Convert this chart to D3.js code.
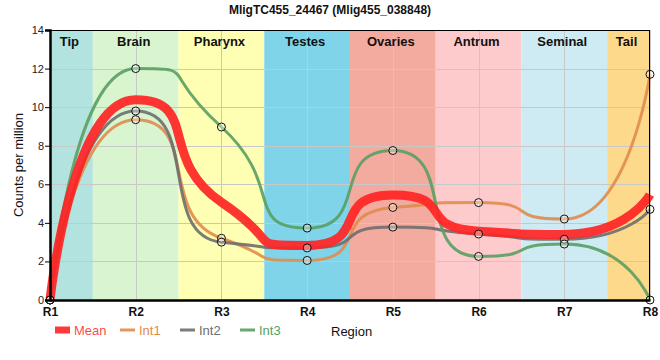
<!DOCTYPE html>
<html>
<head>
<meta charset="utf-8">
<script src="https://cdn.jsdelivr.net/npm/d3@7"></script>
<style>
  html, body { margin: 0; padding: 0; background: #fff; }
  svg { display: block; font-family: "Liberation Sans", Arial, sans-serif; }
</style>
</head>
<body>
<svg id="chart" width="660" height="360"></svg>
<script>
// ---- data ----
const categories = ["R1", "R2", "R3", "R4", "R5", "R6", "R7", "R8"];
const regionNames = ["Tip", "Brain", "Pharynx", "Testes", "Ovaries", "Antrum", "Seminal", "Tail"];
const regionColors = ["#b3e3de", "#d8f5d0", "#ffffb4", "#7fd4ea", "#f4ab9f", "#fdcbcb", "#ceebf4", "#fdd98b"];
const meanValues = [0, 10.38, 5.07, 2.83, 5.45, 3.57, 3.4, 5.47];
const int1Values = [0, 9.35, 3.2, 2.05, 4.8, 5.05, 4.2, 11.7];
const int2Values = [0, 9.8, 3.0, 2.7, 3.78, 3.42, 3.15, 4.7];
const int3Values = [0, 12.0, 8.97, 3.73, 7.75, 2.26, 2.9, 0];
const yTicks = [0, 2, 4, 6, 8, 10, 12, 14];
const seriesNames = ["Mean", "Int1", "Int2", "Int3"];
const seriesColors = ["#ff2424", "#e08c4c", "#6e6e6e", "#5a9e62"];

const svg = d3.select("#chart");
const W = 660, H = 360;
const margin = { left: 50, right: 10, top: 30, bottom: 60 };
const x = d3.scaleLinear().domain([0, categories.length - 1]).range([margin.left, W - margin.right]);
const y = d3.scaleLinear().domain([0, 14]).range([H - margin.bottom, margin.top]);

// ---- spline curve: long handles, flat at extrema, no overshoot ----
function SplineCurve(ctx) { this._context = ctx; }
SplineCurve.prototype = {
  areaStart() {}, areaEnd() {},
  lineStart() { this._p = []; },
  point(px, py) { this._p.push([+px, +py]); },
  lineEnd() {
    const p = this._p, n = p.length, c = this._context;
    if (!n) return;
    c.moveTo(p[0][0], p[0][1]);
    const sm = 1 / 3, den = sm + 1;
    const L = p.map(q => [q[0], q[1]]), R = p.map(q => [q[0], q[1]]);
    for (let i = 1; i < n - 1; i++) {
      const [lx, ly] = p[i - 1], [px, py] = p[i], [nx, ny] = p[i + 1];
      let lcx = (sm * px + lx) / den, lcy = (sm * py + ly) / den;
      let rcx = (sm * px + nx) / den, rcy = (sm * py + ny) / den;
      let corr = 0;
      if (rcx !== lcx) corr = ((rcy - lcy) * (rcx - px)) / (rcx - lcx) + py - rcy;
      lcy += corr; rcy += corr;
      if (lcy > Math.max(ly, py)) { lcy = Math.max(ly, py); rcy = 2 * py - lcy; }
      else if (lcy < Math.min(ly, py)) { lcy = Math.min(ly, py); rcy = 2 * py - lcy; }
      if (rcy > Math.max(py, ny)) { rcy = Math.max(py, ny); lcy = 2 * py - rcy; }
      else if (rcy < Math.min(py, ny)) { rcy = Math.min(py, ny); lcy = 2 * py - rcy; }
      L[i] = [lcx, lcy]; R[i] = [rcx, rcy];
    }
    for (let i = 1; i < n; i++) {
      c.bezierCurveTo(R[i - 1][0], R[i - 1][1], L[i][0], L[i][1], p[i][0], p[i][1]);
    }
  }
};
const curveSpline = ctx => new SplineCurve(ctx);

// ---- region bands ----
const bandG = svg.append("g");
regionNames.forEach((name, i) => {
  const x0 = Math.max(x(i - 0.5), x(0));
  const x1 = Math.min(x(i + 0.5), x(categories.length - 1));
  bandG.append("rect")
    .attr("x", x0).attr("y", y(14))
    .attr("width", x1 - x0).attr("height", y(0) - y(14))
    .attr("fill", regionColors[i]);
});

// ---- grid ----
const gridG = svg.append("g").attr("stroke", "#c8c8c8").attr("stroke-width", 1);
yTicks.forEach(v => {
  gridG.append("line").attr("x1", x(0)).attr("x2", x(7))
    .attr("y1", Math.round(y(v)) + 0.5).attr("y2", Math.round(y(v)) + 0.5);
});
categories.forEach((c, i) => {
  gridG.append("line").attr("y1", y(14)).attr("y2", y(0))
    .attr("x1", Math.round(x(i)) + 0.5).attr("x2", Math.round(x(i)) + 0.5);
});

// ---- region labels ----
regionNames.forEach((name, i) => {
  const x0 = Math.max(x(i - 0.5), x(0));
  const x1 = Math.min(x(i + 0.5), x(categories.length - 1));
  svg.append("text")
    .attr("x", (x0 + x1) / 2 - 2).attr("y", y(14) + 16)
    .attr("text-anchor", "middle")
    .attr("font-size", 13).attr("font-weight", "bold").attr("fill", "#111")
    .text(name);
});

// ---- lines ----
const line = d3.line().x((d, i) => x(i)).y(d => y(d)).curve(curveSpline);
const intSeries = [int1Values, int2Values, int3Values];
intSeries.forEach((vals, k) => {
  svg.append("path").datum(vals)
    .attr("d", line)
    .attr("fill", "none")
    .attr("stroke", seriesColors[k + 1])
    .attr("stroke-width", 3)
    .attr("stroke-opacity", 0.9);
});
svg.append("path").datum(meanValues)
  .attr("d", line)
  .attr("fill", "none")
  .attr("stroke", seriesColors[0])
  .attr("stroke-width", 9)
  .attr("stroke-opacity", 0.92);

// ---- markers ----
intSeries.forEach(vals => {
  svg.append("g").selectAll("circle").data(vals).join("circle")
    .attr("cx", (d, i) => x(i)).attr("cy", d => y(d))
    .attr("r", 4)
    .attr("fill", "rgba(255,255,255,0.35)")
    .attr("stroke", "#111").attr("stroke-width", 1);
});

// ---- axes / frame ----
svg.append("line").attr("x1", x(0)).attr("x2", x(7)).attr("y1", y(14) + 0.5).attr("y2", y(14) + 0.5)
  .attr("stroke", "#000").attr("stroke-width", 1);
svg.append("line").attr("x1", x(7) - 0.5).attr("x2", x(7) - 0.5).attr("y1", y(14)).attr("y2", y(0))
  .attr("stroke", "#000").attr("stroke-width", 1);

const yAxis = svg.append("g").attr("transform", `translate(${x(0)},0)`)
  .call(d3.axisLeft(y).tickValues(yTicks).tickSize(5).tickFormat(d3.format("d")));
yAxis.select(".domain").attr("stroke", "#000").attr("stroke-width", 2.5);
yAxis.selectAll(".tick line").attr("stroke", "#000");
yAxis.selectAll(".tick text").attr("font-size", 11).attr("fill", "#222")
  .attr("font-family", "'Liberation Sans', Arial, sans-serif").attr("x", -6);

const xAxis = svg.append("g").attr("transform", `translate(0,${y(0)})`)
  .call(d3.axisBottom(x).tickValues(d3.range(categories.length)).tickSize(0).tickFormat(i => categories[i]));
xAxis.select(".domain").attr("stroke", "#000").attr("stroke-width", 2.5);
xAxis.selectAll(".tick text").attr("font-size", 12).attr("font-weight", "bold").attr("fill", "#111")
  .attr("font-family", "'Liberation Sans', Arial, sans-serif").attr("dy", "1.1em");

// ---- title ----
svg.append("text").attr("x", 330).attr("y", 14).attr("text-anchor", "middle")
  .attr("font-size", 12).attr("font-weight", "bold").attr("fill", "#111")
  .text("MligTC455_24467 (Mlig455_038848)");

// ---- y axis title ----
svg.append("text").attr("transform", `translate(23,${(y(0) + y(14)) / 2}) rotate(-90)`)
  .attr("text-anchor", "middle").attr("font-size", 13).attr("fill", "#111")
  .text("Counts per million");

// ---- legend ----
const legendX = [55, 120, 180, 240];
seriesNames.forEach((name, k) => {
  const g = svg.append("g").attr("transform", `translate(${legendX[k]},330)`);
  g.append("line").attr("x1", 0).attr("x2", 15).attr("y1", 0).attr("y2", 0)
    .attr("stroke", seriesColors[k]).attr("stroke-width", k === 0 ? 7 : 3)
    .attr("stroke-opacity", 0.9);
  g.append("text").attr("x", 19).attr("y", 5).attr("font-size", 13)
    .attr("fill", seriesColors[k]).attr("fill-opacity", k === 0 ? 0.85 : 1)
    .text(name);
});
svg.append("text").attr("x", 331).attr("y", 336).attr("font-size", 13).attr("fill", "#111")
  .text("Region");
</script>
</body>
</html>
